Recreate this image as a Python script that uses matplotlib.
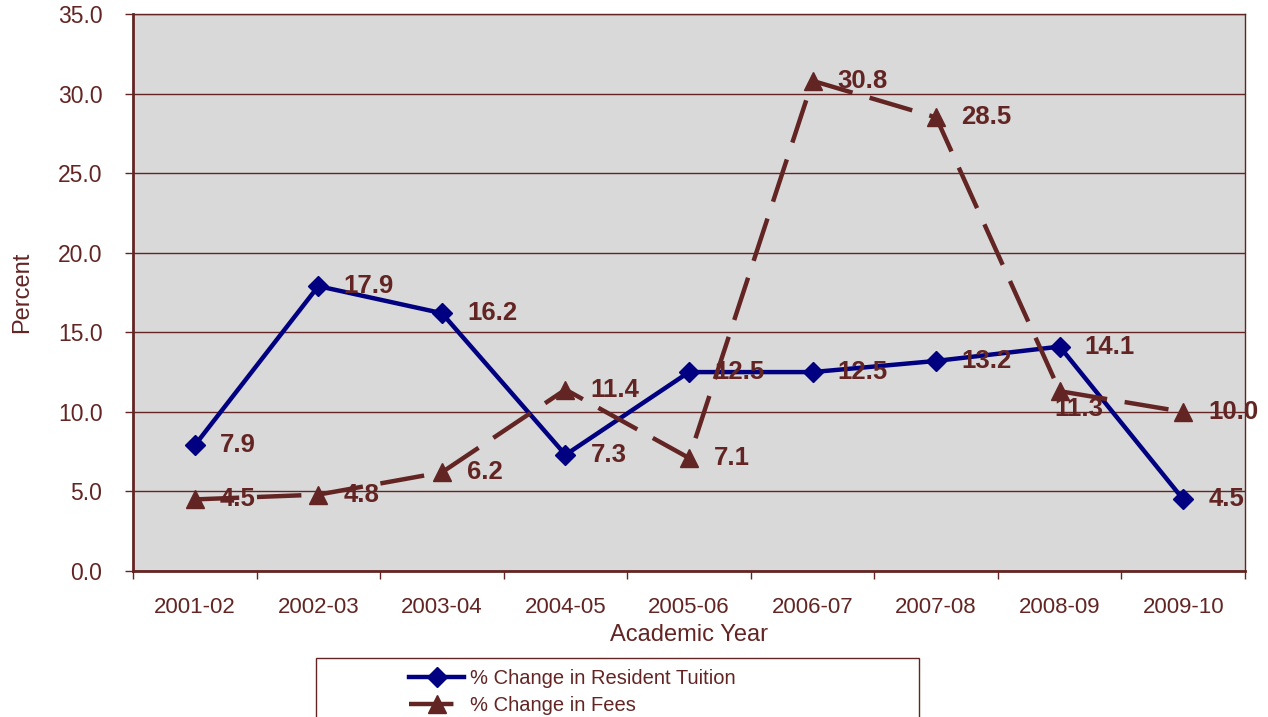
import matplotlib
matplotlib.use("Agg")
import matplotlib.pyplot as plt
from matplotlib.patches import Rectangle

plt.rcParams['font.family'] = ['Liberation Sans', 'DejaVu Sans']

years = ["2001-02", "2002-03", "2003-04", "2004-05", "2005-06",
         "2006-07", "2007-08", "2008-09", "2009-10"]
tuition = [7.9, 17.9, 16.2, 7.3, 12.5, 12.5, 13.2, 14.1, 4.5]
fees = [4.5, 4.8, 6.2, 11.4, 7.1, 30.8, 28.5, 11.3, 10.0]

brown = "#632523"
navy = "#000080"

fig = plt.figure(figsize=(12.68, 7.17), dpi=100)
ax = fig.add_axes([0.1049, 0.2036, 0.877, 0.7769])
ax.set_facecolor("#D9D9D9")

x = list(range(len(years)))
ax.plot(x, tuition, color=navy, lw=3.2, marker="D", ms=10,
        label="% Change in Resident Tuition", zorder=3)
ax.plot(x, fees, color=brown, lw=3.2, marker="^", ms=13, dashes=(10, 4),
        label="% Change in Fees", zorder=3)

# data labels
for i, v in enumerate(tuition):
    ax.annotate(f"{v:.1f}", (i, v), xytext=(18, 0), textcoords="offset points",
                ha="left", va="center", fontsize=18.5, fontweight="bold",
                color=brown, zorder=4)
for i, v in enumerate(fees):
    if i == 7:
        off = (-4, -13)
    else:
        off = (18, 0)
    ax.annotate(f"{v:.1f}", (i, v), xytext=off, textcoords="offset points",
                ha="left", va="center", fontsize=18.5, fontweight="bold",
                color=brown, zorder=4)

ax.set_xlim(-0.5, 8.5)
ax.set_ylim(0, 35)
ax.set_yticks([0, 5, 10, 15, 20, 25, 30, 35])
ax.set_yticklabels([f"{t:.1f}" for t in [0, 5, 10, 15, 20, 25, 30, 35]])
ax.set_xticks(x)
ax.set_xticklabels(years)
ax.set_xticks([i - 0.5 for i in range(len(years) + 1)], minor=True)
ax.tick_params(axis="x", which="major", length=0, pad=19, labelsize=16,
               labelcolor=brown)
ax.tick_params(axis="x", which="minor", length=6, width=1, color=brown)
ax.tick_params(axis="y", length=6, width=1, color=brown, labelsize=16.5,
               labelcolor=brown, pad=16)

ax.grid(axis="y", color=brown, lw=1)
ax.set_axisbelow(True)
for s in ax.spines.values():
    s.set_color(brown)
    s.set_linewidth(1)
ax.spines["left"].set_linewidth(2)
ax.spines["bottom"].set_linewidth(2)

ax.set_xlabel("Academic Year", fontsize=17, color=brown, labelpad=4)
ax.set_ylabel("Percent", fontsize=17, color=brown, labelpad=18)

fig.patches.append(Rectangle((0.249, -0.05), 0.476, 0.132,
                             transform=fig.transFigure, fill=False,
                             edgecolor=brown, lw=1))
fig.legend(loc="upper left", bbox_to_anchor=(0.315, 0.081), frameon=False,
           fontsize=14.5, handlelength=2.7, labelcolor=brown,
           borderpad=0, labelspacing=0.4, handletextpad=0.3)

fig.savefig("out.png", dpi=100)
